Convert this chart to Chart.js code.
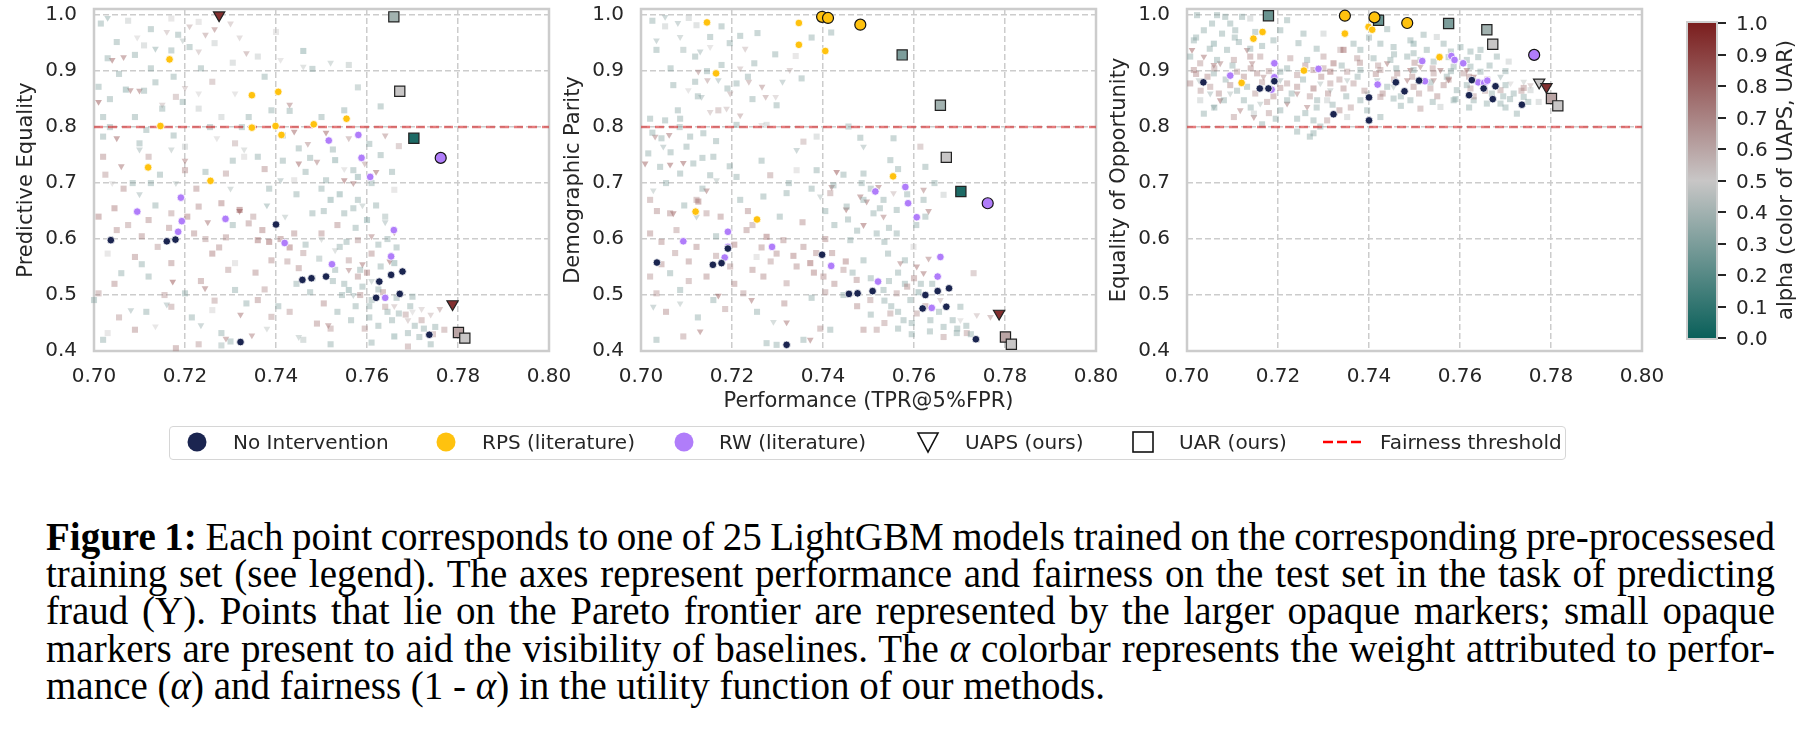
<!DOCTYPE html>
<html>
<head>
<meta charset="utf-8">
<script src="https://cdn.jsdelivr.net/npm/chart.js@4.4.0/dist/chart.umd.min.js"></script>
<style>
  body { margin: 0; width: 1819px; height: 745px; background: #fff; position: relative; overflow: hidden;
         font-family: 'DejaVu Sans', sans-serif; color: #262626; }
  canvas { position: absolute; top: 0; }
  .lg-box { position: absolute; left: 169px; top: 426px; width: 1397px; height: 34px; box-sizing: border-box;
            border: 1.5px solid #d6d6d6; border-radius: 4px; }
  .lg-txt { position: absolute; top: 430px; font-size: 20px; line-height: 24px; white-space: nowrap; }
  .cb-tick { position: absolute; left: 1718px; width: 8px; height: 2px; background: #262626; }
  .cb-lab { position: absolute; left: 1736px; font-size: 20px; line-height: 24px; }
  #caption { position: absolute; left: 46px; top: 518px; width: 1729px; font-family: 'Liberation Serif', serif;
             font-size: 39px; line-height: 37.2px; color: #000; }
  #caption div { white-space: nowrap; }
  #caption .j { text-align: justify; text-align-last: justify; }
</style>
</head>
<body>

<canvas id="c1" width="579" height="431" style="left:0px"></canvas>
<canvas id="c2" width="579" height="431" style="left:547px"></canvas>
<canvas id="c3" width="579" height="431" style="left:1093px"></canvas>

<div id="cbar" style="position:absolute; left:1686px; top:21px; width:32px; height:319px; box-sizing:border-box;
     border:2px solid #cfcfcf; background:linear-gradient(to top, rgb(10,96,90), rgb(200,198,198), rgb(123,30,30));"></div>
<div id="cbticks"></div>
<div style="position:absolute; left:1785px; top:180px; transform:translate(-50%,-50%) rotate(-90deg);
     white-space:nowrap; font-size:21px;">alpha (color of UAPS, UAR)</div>

<div class="lg-box"></div>
<svg style="position:absolute; left:0; top:415px;" width="1819" height="55">
  <circle cx="197" cy="27" r="9.5" fill="#1b2550"/>
  <circle cx="446" cy="27" r="9.5" fill="#ffc20e"/>
  <circle cx="684" cy="27" r="9.5" fill="#b07dfa"/>
  <polygon points="918,18 938,18 928,37" fill="#fff" stroke="#111" stroke-width="1.6"/>
  <rect x="1133" y="17" width="20" height="20" fill="#fff" stroke="#111" stroke-width="1.6"/>
  <line x1="1323" y1="27" x2="1363" y2="27" stroke="#ff0000" stroke-width="2.5" stroke-dasharray="10,4"/>
</svg>
<div class="lg-txt" style="left:233px">No Intervention</div>
<div class="lg-txt" style="left:482px">RPS (literature)</div>
<div class="lg-txt" style="left:719px">RW (literature)</div>
<div class="lg-txt" style="left:965px">UAPS (ours)</div>
<div class="lg-txt" style="left:1179px">UAR (ours)</div>
<div class="lg-txt" style="left:1380px">Fairness threshold</div>

<div id="caption">
  <div class="j"><b>Figure 1:</b> Each point corresponds to one of 25 LightGBM models trained on the corresponding pre-processesed</div>
  <div class="j">training set (see legend). The axes represent performance and fairness on the test set in the task of predicting</div>
  <div class="j">fraud (Y). Points that lie on the Pareto frontier are represented by the larger opaque markers; small opaque</div>
  <div class="j">markers are present to aid the visibility of baselines. The <i>α</i> colorbar represents the weight attributed to perfor-</div>
  <div>mance (<i>α</i>) and fairness (1 - <i>α</i>) in the utility function of our methods.</div>
</div>

<script>
var xTicks = [0.70, 0.72, 0.74, 0.76, 0.78, 0.80];
var yTicks = [0.4, 0.5, 0.6, 0.7, 0.8, 0.9, 1.0];
var cbarTicks = [0.0, 0.1, 0.2, 0.3, 0.4, 0.5, 0.6, 0.7, 0.8, 0.9, 1.0];
var threshold = 0.8;
var panelTitles = ['Predictive Equality', 'Demographic Parity', 'Equality of Opportunity'];
var xTitle = 'Performance (TPR@5%FPR)';

// ---- Predictive Equality ----
var peNoInt = [[0.7037,0.598],[0.7160,0.596],[0.7179,0.599],[0.7400,0.626],[0.7458,0.527],[0.7478,0.530],[0.7510,0.533],[0.7627,0.524],[0.7653,0.536],[0.7678,0.542],[0.7620,0.495],[0.7672,0.502],[0.7737,0.429],[0.7322,0.416]];
var peRPS = [[0.7166,0.921],[0.7347,0.857],[0.7405,0.863],[0.7146,0.802],[0.7347,0.799],[0.7399,0.802],[0.7412,0.786],[0.7483,0.805],[0.7555,0.815],[0.7119,0.728],[0.7256,0.704]];
var peRW = [[0.7516,0.776],[0.7581,0.786],[0.7588,0.745],[0.7607,0.711],[0.7191,0.674],[0.7095,0.649],[0.7193,0.632],[0.7289,0.636],[0.7185,0.613],[0.7419,0.593],[0.7659,0.616],[0.7653,0.569],[0.7523,0.555],[0.7640,0.495]];
var peParetoUAR = [[0.7659,0.997,0.4],[0.7672,0.864,0.5],[0.7703,0.780,0.05],[0.7801,0.433,0.6],[0.7815,0.423,0.5]];
var peParetoUAPS = [[0.7275,1.0,0.95],[0.7788,0.484,0.95]];
var peParetoRPS = [];
var peParetoRW = [[0.7762,0.745]];
var peFaintUAR = [[0.705,0.952,0.3],[0.711,0.946,0.45],[0.717,0.994,0.5],[0.723,0.988,0.5],[0.721,0.943,0.3],[0.717,0.937,0.3],[0.709,0.929,0.3],[0.703,0.923,0.3],[0.746,0.936,0.25],[0.748,0.904,0.3],[0.756,0.911,0.4],[0.736,0.926,0.45],[0.740,0.970,0.5],[0.701,0.872,0.3],[0.707,0.867,0.25],[0.711,0.865,0.3],[0.715,0.833,0.3],[0.726,0.881,0.65],[0.718,0.854,0.65],[0.702,0.818,0.3],[0.709,0.818,0.3],[0.723,0.833,0.45],[0.728,0.818,0.45],[0.734,0.818,0.3],[0.739,0.830,0.3],[0.743,0.829,0.3],[0.750,0.818,0.3],[0.755,0.830,0.3],[0.763,0.837,0.3],[0.758,0.871,0.35],[0.767,0.766,0.65],[0.766,0.688,0.5],[0.702,0.783,0.3],[0.710,0.771,0.3],[0.720,0.765,0.45],[0.731,0.771,0.65],[0.736,0.747,0.3],[0.745,0.762,0.3],[0.753,0.741,0.25],[0.757,0.723,0.3],[0.763,0.750,0.3],[0.702,0.747,0.75],[0.712,0.747,0.7],[0.720,0.723,0.75],[0.729,0.717,0.7],[0.733,0.747,0.5],[0.744,0.705,0.5],[0.751,0.705,0.3],[0.758,0.711,0.25],[0.701,0.640,0.8],[0.705,0.616,0.75],[0.712,0.634,0.75],[0.717,0.646,0.7],[0.723,0.658,0.75],[0.728,0.664,0.8],[0.732,0.652,0.9],[0.734,0.628,0.75],[0.737,0.616,0.8],[0.722,0.610,0.75],[0.714,0.586,0.7],[0.709,0.568,0.75],[0.703,0.574,0.5],[0.717,0.557,0.75],[0.726,0.574,0.8],[0.731,0.557,0.5],[0.739,0.562,0.75],[0.744,0.610,0.75],[0.748,0.646,0.3],[0.752,0.670,0.25],[0.755,0.646,0.3],[0.758,0.670,0.3],[0.760,0.634,0.25],[0.750,0.610,0.75],[0.754,0.586,0.3],[0.758,0.598,0.7],[0.761,0.574,0.75],[0.756,0.562,0.7],[0.753,0.545,0.3],[0.758,0.533,0.75],[0.763,0.551,0.3],[0.766,0.557,0.25],[0.759,0.515,0.3],[0.756,0.509,0.25],[0.761,0.491,0.3],[0.764,0.479,0.7],[0.767,0.467,0.3],[0.770,0.497,0.3],[0.772,0.455,0.7],[0.775,0.443,0.3],[0.777,0.438,0.7],[0.769,0.432,0.3],[0.766,0.426,0.25],[0.749,0.449,0.75],[0.752,0.440,0.7],[0.743,0.470,0.7],[0.736,0.491,0.75],[0.726,0.473,0.5],[0.717,0.479,0.7],[0.709,0.438,0.75],[0.703,0.432,0.5],[0.701,0.503,0.7],[0.706,0.539,0.3],[0.712,0.533,0.3],[0.720,0.503,0.3],[0.731,0.509,0.3],[0.700,0.491,0.3],[0.728,0.432,0.3],[0.739,0.461,0.7],[0.730,0.417,0.3],[0.728,0.410,0.35],[0.723,0.412,0.7],[0.718,0.405,0.75],[0.746,0.420,0.4],[0.752,0.412,0.3],[0.761,0.415,0.3],[0.769,0.408,0.7],[0.774,0.412,0.3],[0.702,0.420,0.3],[0.741,0.600,0.8],[0.743,0.585,0.85],[0.746,0.575,0.7],[0.736,0.598,0.85],[0.729,0.603,0.75],[0.735,0.640,0.7],[0.745,0.548,0.75],[0.748,0.530,0.3],[0.755,0.520,0.3],[0.760,0.540,0.8],[0.750,0.690,0.3],[0.754,0.680,0.25],[0.757,0.655,0.3],[0.762,0.660,0.3],[0.764,0.640,0.35],[0.761,0.700,0.3],[0.7045,0.655,0.8],[0.7075,0.625,0.7],[0.7105,0.605,0.75],[0.7135,0.660,0.3],[0.7165,0.620,0.75],[0.7205,0.640,0.8],[0.7245,0.600,0.7],[0.7275,0.585,0.75],[0.7305,0.625,0.3],[0.7385,0.595,0.9],[0.7425,0.560,0.7],[0.7465,0.590,0.3],[0.7495,0.565,0.35],[0.7525,0.525,0.3],[0.7545,0.500,0.3],[0.7575,0.480,0.3],[0.7605,0.460,0.3],[0.7635,0.505,0.75],[0.7665,0.495,0.3],[0.7695,0.480,0.3],[0.7725,0.440,0.3],[0.7585,0.545,0.3],[0.7555,0.595,0.3],[0.7625,0.590,0.3],[0.7085,0.700,0.3],[0.7145,0.715,0.3],[0.7225,0.690,0.75],[0.7385,0.690,0.3],[0.7445,0.680,0.3],[0.7325,0.800,0.3],
  [0.7015,0.985,0.3],[0.7075,0.990,0.45],[0.7125,0.975,0.3],[0.7185,0.965,0.3],[0.7265,0.950,0.45],[0.7055,0.895,0.3],[0.7125,0.905,0.3],[0.7175,0.890,0.3],[0.7235,0.905,0.3],[0.7305,0.915,0.45],[0.7375,0.890,0.3],[0.7035,0.850,0.3],[0.7135,0.880,0.3],[0.7195,0.845,0.3],[0.7035,0.800,0.3],[0.7115,0.795,0.3],[0.7175,0.785,0.3],[0.7255,0.800,0.3],[0.7415,0.785,0.3],[0.7475,0.745,0.3],[0.7525,0.760,0.3],[0.7605,0.770,0.3],[0.7655,0.720,0.3],[0.7025,0.715,0.7],[0.7065,0.690,0.75],[0.7125,0.700,0.3],[0.7245,0.720,0.3],[0.7305,0.740,0.3],[0.7375,0.725,0.75],[0.7415,0.740,0.3],[0.7465,0.720,0.3],[0.7505,0.650,0.3],[0.7535,0.625,0.75],[0.7575,0.620,0.3],[0.7645,0.600,0.3],[0.7665,0.585,0.3],[0.7445,0.520,0.3],[0.7475,0.505,0.3],[0.7505,0.485,0.75],[0.7535,0.470,0.3],[0.7565,0.455,0.3],[0.7595,0.440,0.7],[0.7625,0.445,0.3],[0.7655,0.455,0.3],[0.7685,0.465,0.7],[0.7705,0.445,0.3],[0.7715,0.425,0.3],[0.7745,0.430,0.7],[0.7585,0.500,0.75],[0.7625,0.510,0.3],[0.7605,0.480,0.3],[0.7645,0.470,0.3],[0.7055,0.460,0.7],[0.7115,0.470,0.3],[0.7155,0.500,0.7],[0.7215,0.460,0.3],[0.7265,0.490,0.7],[0.7335,0.485,0.3],[0.7375,0.510,0.7],[0.7405,0.480,0.3],[0.7355,0.540,0.75],[0.7295,0.545,0.7],[0.7235,0.525,0.75],[0.7105,0.555,0.3],[0.7045,0.520,0.75]];
var peFaintUAPS = [[0.703,0.995,0.3],[0.7095,0.960,0.5],[0.716,0.970,0.6],[0.721,0.980,0.65],[0.7245,0.965,0.7],[0.7265,0.975,0.8],[0.730,0.985,0.6],[0.732,0.960,0.55],[0.704,0.920,0.9],[0.7065,0.925,0.85],[0.7135,0.940,0.3],[0.7195,0.955,0.4],[0.723,0.935,0.6],[0.7335,0.932,0.7],[0.741,0.920,0.5],[0.746,0.908,0.45],[0.752,0.915,0.4],[0.708,0.866,0.85],[0.710,0.865,0.85],[0.720,0.870,0.6],[0.723,0.860,0.5],[0.701,0.845,0.95],[0.715,0.840,0.6],[0.731,0.860,0.5],[0.743,0.840,0.8],[0.744,0.792,0.9],[0.751,0.790,0.9],[0.756,0.780,0.7],[0.764,0.785,0.75],[0.705,0.780,0.9],[0.710,0.760,0.35],[0.717,0.760,0.4],[0.727,0.780,0.5],[0.733,0.760,0.45],[0.747,0.770,0.75],[0.749,0.738,0.8],[0.745,0.735,0.9],[0.755,0.725,0.5],[0.7595,0.735,0.7],[0.762,0.720,0.9],[0.706,0.730,0.85],[0.720,0.740,0.8],[0.741,0.705,0.35],[0.755,0.705,0.9],[0.757,0.700,0.85],[0.759,0.660,0.4],[0.764,0.630,0.35],[0.766,0.612,0.85],[0.761,0.605,0.8],[0.718,0.700,0.4],[0.730,0.690,0.4],[0.732,0.650,0.9],[0.704,0.700,0.5],[0.710,0.680,0.35],[0.725,0.630,0.85],[0.738,0.660,0.3],[0.742,0.640,0.4],[0.750,0.600,0.45],[0.753,0.580,0.45],[0.756,0.545,0.8],[0.759,0.555,0.85],[0.765,0.560,0.9],[0.761,0.525,0.4],[0.757,0.500,0.35],[0.766,0.480,0.6],[0.770,0.470,0.5],[0.772,0.475,0.55],[0.774,0.465,0.6],[0.776,0.475,0.7],[0.769,0.455,0.6],[0.7173,0.524,0.95],[0.7244,0.512,0.85],[0.7322,0.465,0.85],[0.7235,0.446,0.35],[0.7081,0.473,0.35],[0.716,0.483,0.35],[0.7135,0.444,0.5],[0.729,0.422,0.8],[0.7347,0.428,0.8],[0.7515,0.446,0.8],[0.745,0.425,0.4],[0.738,0.440,0.45]];

// ---- Demographic Parity ----
var dpNoInt = [[0.7035,0.558],[0.7158,0.554],[0.7177,0.557],[0.7191,0.583],[0.7398,0.572],[0.7457,0.502],[0.7476,0.503],[0.7509,0.507],[0.7625,0.500],[0.7652,0.507],[0.7677,0.512],[0.7619,0.476],[0.7671,0.479],[0.7736,0.421],[0.7320,0.411]];
var dpRPS = [[0.7145,0.987],[0.7347,0.986],[0.7347,0.947],[0.7405,0.936],[0.7165,0.896],[0.7554,0.712],[0.7120,0.649],[0.7255,0.635]];
var dpRW = [[0.7515,0.685],[0.7581,0.693],[0.7587,0.664],[0.7606,0.639],[0.7191,0.613],[0.7093,0.596],[0.7191,0.586],[0.7288,0.586],[0.7184,0.567],[0.7418,0.552],[0.7658,0.568],[0.7652,0.533],[0.7521,0.524],[0.7639,0.477]];
var dpParetoUAR = [[0.7574,0.929,0.3],[0.7658,0.839,0.4],[0.7671,0.746,0.5],[0.7703,0.685,0.05],[0.7801,0.425,0.6],[0.7814,0.412,0.5]];
var dpParetoUAPS = [[0.7787,0.467,0.95]];
var dpParetoRPS = [[0.7398,0.997],[0.7411,0.995],[0.7482,0.983]];
var dpParetoRW = [[0.7762,0.664]];
var dpFaintUAR = [[0.7053,0.980,0.45],[0.7122,0.982,0.45],[0.7177,0.980,0.3],[0.7152,0.961,0.3],[0.7093,0.938,0.35],[0.7034,0.938,0.3],[0.7119,0.926,0.3],[0.7177,0.911,0.3],[0.7256,0.968,0.3],[0.7218,0.963,0.3],[0.7249,0.914,0.3],[0.7353,0.887,0.3],[0.7340,0.927,0.5],[0.7418,0.969,0.3],[0.7071,0.875,0.3],[0.7119,0.881,0.3],[0.7190,0.869,0.3],[0.7210,0.878,0.3],[0.7298,0.839,0.3],[0.7081,0.830,0.3],[0.7020,0.815,0.3],[0.7053,0.812,0.3],[0.7086,0.815,0.3],[0.7170,0.830,0.65],[0.7210,0.804,0.3],[0.7276,0.804,0.45],[0.7386,0.783,0.45],[0.7357,0.774,0.65],[0.7482,0.781,0.3],[0.7555,0.780,0.3],[0.7456,0.801,0.3],[0.7108,0.783,0.3],[0.7137,0.789,0.3],[0.7100,0.765,0.3],[0.7042,0.729,0.3],[0.7086,0.717,0.3],[0.7115,0.735,0.3],[0.7159,0.747,0.3],[0.7016,0.753,0.3],[0.7152,0.714,0.3],[0.7210,0.711,0.3],[0.7284,0.714,0.7],[0.7342,0.723,0.5],[0.7386,0.723,0.3],[0.7423,0.696,0.3],[0.7489,0.717,0.3],[0.7548,0.741,0.3],[0.7625,0.729,0.3],[0.7614,0.765,0.65],[0.7665,0.679,0.45],[0.7621,0.670,0.3],[0.7489,0.670,0.3],[0.7533,0.670,0.3],[0.7562,0.652,0.3],[0.7511,0.646,0.3],[0.7452,0.658,0.3],[0.7416,0.682,0.7],[0.7320,0.682,0.3],[0.7269,0.676,0.3],[0.7218,0.670,0.3],[0.7122,0.670,0.7],[0.7020,0.670,0.7],[0.7064,0.646,0.75],[0.7126,0.667,0.85],[0.7144,0.646,0.7],[0.7020,0.610,0.75],[0.7078,0.616,0.7],[0.7122,0.586,0.75],[0.7232,0.616,0.75],[0.7276,0.604,0.85],[0.7313,0.598,0.75],[0.7357,0.586,0.75],[0.7372,0.557,0.9],[0.7342,0.551,0.75],[0.7298,0.574,0.75],[0.7254,0.568,0.5],[0.7196,0.551,0.7],[0.7144,0.533,0.75],[0.7064,0.539,0.3],[0.7020,0.533,0.7],[0.7034,0.503,0.7],[0.7086,0.509,0.3],[0.7159,0.491,0.3],[0.7225,0.503,0.7],[0.7269,0.533,0.75],[0.7320,0.521,0.7],[0.7401,0.533,0.75],[0.7445,0.545,0.7],[0.7489,0.562,0.3],[0.7543,0.574,0.3],[0.7580,0.562,0.3],[0.7460,0.598,0.3],[0.7518,0.610,0.3],[0.7562,0.610,0.3],[0.7599,0.586,0.5],[0.7474,0.527,0.75],[0.7504,0.491,0.7],[0.7533,0.509,0.3],[0.7562,0.503,0.7],[0.7592,0.491,0.3],[0.7548,0.467,0.7],[0.7577,0.455,0.3],[0.7606,0.467,0.7],[0.7636,0.455,0.3],[0.7665,0.443,0.3],[0.7702,0.479,0.3],[0.7731,0.539,0.65],[0.7694,0.432,0.3],[0.7716,0.432,0.7],[0.7738,0.420,0.5],[0.7489,0.438,0.75],[0.7518,0.438,0.7],[0.7416,0.438,0.3],[0.7357,0.420,0.3],[0.7298,0.411,0.3],[0.7276,0.414,0.3],[0.7093,0.426,0.7],[0.7034,0.420,0.3],[0.7394,0.440,0.7],[0.758,0.520,0.3],[0.761,0.505,0.25],[0.764,0.520,0.3],[0.755,0.480,0.3],[0.760,0.530,0.75],[0.745,0.560,0.8],[0.742,0.575,0.75],[0.738,0.540,0.8],[0.7045,0.595,0.75],[0.7075,0.575,0.7],[0.7105,0.560,0.75],[0.7165,0.605,0.3],[0.7205,0.590,0.8],[0.7245,0.545,0.75],[0.7285,0.560,0.7],[0.7335,0.570,0.8],[0.7385,0.575,0.75],[0.7425,0.520,0.75],[0.7465,0.540,0.3],[0.7505,0.530,0.3],[0.7535,0.490,0.3],[0.7565,0.470,0.3],[0.7595,0.450,0.3],[0.7625,0.480,0.75],[0.7655,0.470,0.3],[0.7685,0.455,0.3],[0.7715,0.445,0.3],[0.7565,0.540,0.3],[0.7535,0.595,0.3],[0.7605,0.625,0.3],[0.7455,0.635,0.3],[0.7405,0.650,0.3],[0.7055,0.700,0.3],[0.7135,0.690,0.3],[0.7235,0.650,0.75],[0.7485,0.700,0.3],[0.7045,0.780,0.3],[0.7565,0.725,0.3],
  [0.7025,0.990,0.3],[0.7105,0.995,0.45],[0.7195,0.950,0.3],[0.7065,0.905,0.3],[0.7145,0.900,0.3],[0.7235,0.890,0.3],[0.7295,0.930,0.3],[0.7375,0.960,0.3],[0.7125,0.855,0.3],[0.7245,0.850,0.3],[0.7025,0.790,0.3],[0.7085,0.800,0.3],[0.7165,0.775,0.3],[0.7065,0.755,0.3],[0.7135,0.745,0.3],[0.7195,0.730,0.3],[0.7265,0.740,0.3],[0.7325,0.700,0.3],[0.7375,0.690,0.3],[0.7445,0.715,0.3],[0.7505,0.690,0.3],[0.7525,0.655,0.3],[0.7585,0.680,0.3],[0.7625,0.640,0.3],[0.7645,0.700,0.3],[0.7035,0.650,0.75],[0.7095,0.660,0.3],[0.7175,0.640,0.75],[0.7245,0.625,0.7],[0.7305,0.640,0.3],[0.7355,0.630,0.75],[0.7425,0.625,0.3],[0.7475,0.615,0.3],[0.7545,0.620,0.3],[0.7445,0.500,0.3],[0.7475,0.480,0.75],[0.7505,0.465,0.3],[0.7535,0.450,0.7],[0.7565,0.440,0.3],[0.7595,0.430,0.3],[0.7635,0.435,0.3],[0.7665,0.425,0.7],[0.7695,0.440,0.3],[0.7725,0.430,0.3],[0.7585,0.515,0.75],[0.7615,0.520,0.3],[0.7545,0.525,0.3],[0.7055,0.470,0.75],[0.7125,0.460,0.3],[0.7185,0.475,0.7],[0.7255,0.470,0.3],[0.7315,0.485,0.75],[0.7375,0.495,0.3],[0.7405,0.505,0.7],[0.7205,0.520,0.75],[0.7105,0.525,0.7],[0.7045,0.555,0.75],[0.7165,0.570,0.7],[0.7265,0.585,0.75],[0.7405,0.600,0.75]];
var dpFaintUAPS = [[0.7053,0.997,0.35],[0.7081,0.986,0.35],[0.7034,0.955,0.35],[0.7086,0.961,0.4],[0.7130,0.935,0.35],[0.7152,0.943,0.5],[0.7229,0.940,0.6],[0.7126,0.899,0.75],[0.7146,0.884,0.7],[0.7170,0.884,0.35],[0.7104,0.866,0.5],[0.7133,0.854,0.35],[0.7196,0.860,0.65],[0.7218,0.905,0.6],[0.7237,0.881,0.7],[0.7266,0.872,0.75],[0.7274,0.854,0.7],[0.7296,0.854,0.55],[0.7311,0.881,0.35],[0.7327,0.902,0.6],[0.7188,0.833,0.6],[0.7218,0.821,0.7],[0.7152,0.827,0.6],[0.7265,0.804,0.5],[0.7009,0.735,0.9],[0.7031,0.783,0.8],[0.7064,0.733,0.9],[0.7093,0.736,0.9],[0.7062,0.786,0.85],[0.7049,0.765,0.35],[0.7144,0.687,0.85],[0.7027,0.687,0.4],[0.7166,0.705,0.4],[0.7071,0.646,0.9],[0.7122,0.640,0.35],[0.7430,0.720,0.95],[0.7419,0.693,0.85],[0.7482,0.676,0.85],[0.7496,0.667,0.85],[0.7522,0.693,0.85],[0.7555,0.682,0.6],[0.7621,0.688,0.8],[0.7632,0.650,0.85],[0.7533,0.640,0.8],[0.7489,0.625,0.9],[0.7451,0.653,0.9],[0.7394,0.676,0.4],[0.7489,0.765,0.35],[0.7342,0.759,0.35],[0.7632,0.565,0.8],[0.7606,0.551,0.85],[0.7621,0.539,0.85],[0.7570,0.557,0.8],[0.7170,0.499,0.9],[0.7243,0.491,0.85],[0.7320,0.451,0.85],[0.7130,0.435,0.85],[0.7086,0.485,0.4],[0.7027,0.479,0.35],[0.7291,0.452,0.4],[0.7372,0.420,0.85],[0.7768,0.461,0.7],[0.7738,0.464,0.6],[0.7702,0.455,0.5],[0.7636,0.476,0.55],[0.7658,0.491,0.6]];

// ---- Equality of Opportunity ----
var eoNoInt = [[0.7036,0.880],[0.7160,0.869],[0.7179,0.869],[0.7192,0.882],[0.7400,0.853],[0.7322,0.823],[0.7400,0.812],[0.7459,0.880],[0.7478,0.864],[0.7510,0.883],[0.7626,0.884],[0.7652,0.869],[0.7678,0.873],[0.7620,0.857],[0.7672,0.850],[0.7736,0.840]];
var eoRPS = [[0.7166,0.970],[0.7146,0.958],[0.7347,0.967],[0.7399,0.979],[0.7407,0.974],[0.7555,0.925],[0.7257,0.901],[0.7120,0.879]];
var eoRW = [[0.7095,0.892],[0.7192,0.914],[0.7192,0.889],[0.7186,0.867],[0.7289,0.904],[0.7419,0.876],[0.7517,0.918],[0.7581,0.927],[0.7588,0.920],[0.7607,0.914],[0.7523,0.882],[0.7640,0.880],[0.7653,0.879],[0.7660,0.883]];
var eoParetoUAR = [[0.7179,0.999,0.25],[0.7421,0.991,0.25],[0.7575,0.985,0.3],[0.7659,0.974,0.4],[0.7672,0.948,0.5],[0.7801,0.851,0.6],[0.7815,0.838,0.5]];
var eoParetoUAPS = [[0.7774,0.880,0.5],[0.7790,0.872,0.95]];
var eoParetoRPS = [[0.7347,0.999],[0.7412,0.996],[0.7484,0.986]];
var eoParetoRW = [[0.7763,0.929]];
var eoFaintUAR = [[0.7022,1.000,0.3],[0.7066,1.000,0.3],[0.7084,0.997,0.3],[0.7121,0.997,0.3],[0.7139,0.994,0.45],[0.7037,0.973,0.3],[0.7077,0.967,0.3],[0.7106,0.973,0.3],[0.7059,0.949,0.25],[0.7114,0.952,0.3],[0.7088,0.938,0.3],[0.7139,0.940,0.3],[0.7205,0.973,0.3],[0.7220,0.991,0.3],[0.7256,0.967,0.3],[0.7300,0.967,0.45],[0.7337,0.938,0.65],[0.7366,0.949,0.3],[0.7381,0.938,0.3],[0.7425,0.949,0.3],[0.7454,0.943,0.3],[0.7491,0.955,0.3],[0.7498,0.949,0.25],[0.7498,0.932,0.3],[0.7527,0.938,0.3],[0.7549,0.961,0.45],[0.7564,0.949,0.3],[0.7601,0.943,0.3],[0.7623,0.935,0.3],[0.7645,0.938,0.3],[0.7681,0.926,0.3],[0.7707,0.917,0.45],[0.7007,0.926,0.3],[0.7029,0.914,0.7],[0.7066,0.920,0.3],[0.7103,0.920,0.7],[0.7139,0.926,0.75],[0.7161,0.926,0.7],[0.7227,0.923,0.7],[0.7264,0.920,0.3],[0.7300,0.926,0.7],[0.7322,0.914,0.85],[0.7344,0.938,0.9],[0.7374,0.923,0.7],[0.7410,0.923,0.3],[0.7447,0.920,0.3],[0.7484,0.926,0.3],[0.7513,0.920,0.3],[0.7542,0.917,0.3],[0.7586,0.908,0.3],[0.7623,0.908,0.3],[0.7015,0.902,0.75],[0.7059,0.896,0.3],[0.7110,0.899,0.7],[0.7154,0.896,0.75],[0.7205,0.899,0.3],[0.7242,0.893,0.7],[0.7278,0.902,0.75],[0.7315,0.899,0.85],[0.7352,0.899,0.7],[0.7381,0.902,0.3],[0.7425,0.902,0.7],[0.7462,0.896,0.75],[0.7498,0.902,0.3],[0.7542,0.896,0.7],[0.7571,0.890,0.3],[0.7608,0.896,0.7],[0.7645,0.899,0.3],[0.7007,0.878,0.75],[0.7051,0.872,0.7],[0.7095,0.875,0.75],[0.7132,0.872,0.3],[0.7220,0.878,0.7],[0.7242,0.872,0.75],[0.7278,0.869,0.85],[0.7315,0.878,0.7],[0.7344,0.869,0.75],[0.7366,0.878,0.7],[0.7440,0.872,0.3],[0.7498,0.872,0.75],[0.7535,0.869,0.7],[0.7564,0.875,0.75],[0.7593,0.866,0.3],[0.7623,0.869,0.7],[0.7689,0.866,0.7],[0.7718,0.860,0.3],[0.7740,0.854,0.3],[0.7755,0.866,0.45],[0.7029,0.848,0.45],[0.7081,0.848,0.3],[0.7125,0.848,0.3],[0.7176,0.845,0.7],[0.7220,0.848,0.3],[0.7286,0.848,0.3],[0.7308,0.848,0.45],[0.7381,0.848,0.3],[0.7425,0.854,0.7],[0.7454,0.851,0.3],[0.7491,0.848,0.3],[0.7513,0.833,0.7],[0.7557,0.836,0.45],[0.7586,0.848,0.3],[0.7630,0.848,0.3],[0.7659,0.842,0.3],[0.7689,0.842,0.3],[0.7725,0.824,0.3],[0.7773,0.845,0.45],[0.7037,0.824,0.3],[0.7103,0.818,0.7],[0.7147,0.824,0.45],[0.7205,0.830,0.3],[0.7242,0.815,0.3],[0.7278,0.812,0.3],[0.7308,0.812,0.7],[0.7352,0.818,0.45],[0.7396,0.830,0.3],[0.7425,0.818,0.3],[0.7278,0.789,0.3],[0.7242,0.792,0.3],[0.7293,0.801,0.3],[0.7270,0.783,0.3],[0.7045,0.890,0.75],[0.7085,0.885,0.3],[0.7125,0.890,0.75],[0.7165,0.880,0.7],[0.7205,0.870,0.75],[0.7255,0.885,0.3],[0.7295,0.890,0.75],[0.7335,0.885,0.7],[0.7375,0.890,0.3],[0.7415,0.895,0.75],[0.7455,0.885,0.7],[0.7495,0.890,0.75],[0.7535,0.880,0.3],[0.7575,0.885,0.7],[0.7615,0.875,0.3],[0.7655,0.865,0.7],[0.7695,0.855,0.3],[0.7735,0.865,0.7],[0.7015,0.955,0.3],[0.7055,0.985,0.3],[0.7105,0.960,0.3],[0.7165,0.945,0.3],[0.7575,0.925,0.3],[0.7615,0.920,0.3],[0.7665,0.910,0.3],[0.7455,0.930,0.3],[0.7285,0.835,0.3],[0.7335,0.830,0.75],[0.7195,0.815,0.3],[0.7165,0.805,0.3],
  [0.7020,0.960,0.3],[0.7050,0.940,0.3],[0.7095,0.985,0.3],[0.7150,0.970,0.3],[0.7190,0.955,0.3],[0.7245,0.950,0.3],[0.7285,0.940,0.3],[0.7400,0.960,0.3],[0.7440,0.975,0.3],[0.7520,0.965,0.3],[0.7580,0.935,0.3],[0.7640,0.925,0.3],[0.7700,0.900,0.3],[0.7020,0.895,0.75],[0.7060,0.905,0.7],[0.7100,0.910,0.3],[0.7140,0.905,0.75],[0.7180,0.900,0.7],[0.7220,0.905,0.3],[0.7260,0.910,0.75],[0.7300,0.905,0.7],[0.7340,0.910,0.3],[0.7380,0.915,0.75],[0.7420,0.910,0.7],[0.7460,0.905,0.3],[0.7500,0.915,0.75],[0.7540,0.905,0.7],[0.7580,0.900,0.3],[0.7620,0.890,0.75],[0.7660,0.885,0.7],[0.7700,0.875,0.3],[0.7740,0.870,0.75],[0.7030,0.865,0.7],[0.7070,0.860,0.75],[0.7110,0.865,0.3],[0.7150,0.860,0.7],[0.7190,0.855,0.75],[0.7230,0.860,0.3],[0.7270,0.855,0.7],[0.7310,0.860,0.75],[0.7350,0.855,0.3],[0.7390,0.865,0.7],[0.7430,0.860,0.75],[0.7470,0.855,0.3],[0.7510,0.860,0.7],[0.7550,0.855,0.75],[0.7590,0.850,0.3],[0.7630,0.855,0.7],[0.7670,0.860,0.3],[0.7710,0.850,0.3],[0.7750,0.845,0.3],[0.7060,0.835,0.3],[0.7140,0.835,0.3],[0.7180,0.825,0.7],[0.7260,0.825,0.3],[0.7320,0.840,0.3],[0.7360,0.835,0.7],[0.7470,0.838,0.3],[0.7540,0.845,0.3],[0.7620,0.835,0.3],[0.7700,0.835,0.3]];
var eoFaintUAPS = [[0.7011,0.938,0.9],[0.7037,0.926,0.85],[0.7026,0.884,0.4],[0.7051,0.860,0.35],[0.7073,0.848,0.9],[0.7073,0.914,0.8],[0.7143,0.914,0.8],[0.7168,0.890,0.75],[0.7117,0.830,0.8],[0.7147,0.818,0.85],[0.7059,0.836,0.35],[0.7095,0.860,0.4],[0.7161,0.842,0.4],[0.7220,0.842,0.85],[0.7264,0.836,0.8],[0.7205,0.884,0.35],[0.7293,0.878,0.4],[0.7440,0.914,0.85],[0.7491,0.902,0.9],[0.7513,0.908,0.8],[0.7557,0.902,0.85],[0.7575,0.885,0.95],[0.7542,0.884,0.8],[0.7484,0.884,0.85],[0.7454,0.872,0.4],[0.7418,0.884,0.35],[0.7615,0.902,0.85],[0.7630,0.890,0.9],[0.7659,0.878,0.5],[0.7711,0.878,0.5],[0.7740,0.881,0.45],[0.7755,0.875,0.6],[0.7689,0.890,0.35],[0.7352,0.884,0.4],[0.7315,0.866,0.4],[0.7242,0.860,0.8],[0.7396,0.860,0.35],[0.7132,0.938,0.85],[0.7059,0.911,0.85]];

var NOINT_COLOR = '#1b2550';
var RPS_COLOR = '#ffc20e';
var RW_COLOR = '#b07dfa';

function alphaColor(a, op) {
  var lo = [10, 96, 90], mid = [200, 198, 198], hi = [123, 30, 30];
  var c;
  if (a < 0.5) {
    var t = a / 0.5;
    c = lo.map(function (v, i) { return v + (mid[i] - v) * t; });
  } else {
    var t2 = (a - 0.5) / 0.5;
    c = mid.map(function (v, i) { return v + (hi[i] - v) * t2; });
  }
  return 'rgba(' + c.map(Math.round).join(',') + ',' + op + ')';
}

function toPts(arr) {
  return arr.map(function (p) { return { x: p[0], y: p[1], a: p.length > 2 ? p[2] : 0.5 }; });
}

function colorBy(op) {
  return function (c) { return c.raw ? alphaColor(c.raw.a, op) : '#cccccc'; };
}

// light grey box round each plot area
var frame = {
  id: 'frame',
  beforeDatasetsDraw: function (chart) {
    var a = chart.chartArea, c = chart.ctx;
    c.save();
    c.strokeStyle = '#cccccc';
    c.lineWidth = 2.5;
    c.strokeRect(a.left, a.top, a.right - a.left, a.bottom - a.top);
    c.restore();
  }
};

function makePanel(id, title, showX, d) {
  var ctx = document.getElementById(id).getContext('2d');
  var tickFont = { family: 'DejaVu Sans', size: 20 };
  var titleFont = { family: 'DejaVu Sans', size: 21 };
  return new Chart(ctx, {
    type: 'scatter',
    data: {
      datasets: [
        { data: toPts(d.paretoRPS), pointStyle: 'circle', pointRadius: 5.5, pointBackgroundColor: RPS_COLOR,
          pointBorderColor: '#111', pointBorderWidth: 1.2, order: 0, clip: false },
        { data: toPts(d.paretoRW), pointStyle: 'circle', pointRadius: 5.5, pointBackgroundColor: RW_COLOR,
          pointBorderColor: '#111', pointBorderWidth: 1.2, order: 0, clip: false },
        { data: toPts(d.paretoUAR), pointStyle: 'rect', pointRadius: 7.2, pointBackgroundColor: colorBy(1),
          pointBorderColor: '#222', pointBorderWidth: 1.2, order: 1, clip: false },
        { data: toPts(d.paretoUAPS), pointStyle: 'triangle', pointRotation: 180, pointRadius: 6.5,
          pointBackgroundColor: colorBy(1), pointBorderColor: '#222', pointBorderWidth: 1.2, order: 1, clip: false },
        { data: toPts(d.noInt), pointStyle: 'circle', pointRadius: 3.8, pointBackgroundColor: NOINT_COLOR,
          pointBorderColor: '#fff', pointBorderWidth: 0.8, order: 2, clip: false },
        { data: toPts(d.rps), pointStyle: 'circle', pointRadius: 3.8, pointBackgroundColor: RPS_COLOR,
          pointBorderColor: '#fff', pointBorderWidth: 0.8, order: 2, clip: false },
        { data: toPts(d.rw), pointStyle: 'circle', pointRadius: 3.8, pointBackgroundColor: RW_COLOR,
          pointBorderColor: '#fff', pointBorderWidth: 0.8, order: 2, clip: false },
        { type: 'line', data: [{ x: xTicks[0], y: threshold }, { x: xTicks[xTicks.length - 1], y: threshold }],
          borderColor: 'rgba(214,39,40,0.6)', borderWidth: 2.5, borderDash: [9, 5], pointRadius: 0, fill: false, order: 3 },
        { data: toPts(d.faintUAR), pointStyle: 'rect', pointRadius: 4.3, pointBackgroundColor: colorBy(0.4),
          pointBorderWidth: 0, order: 4, clip: false },
        { data: toPts(d.faintUAPS), pointStyle: 'triangle', pointRotation: 180, pointRadius: 3.9,
          pointBackgroundColor: colorBy(0.42), pointBorderWidth: 0, order: 4, clip: false }
      ]
    },
    options: {
      responsive: false,
      animation: false,
      layout: { padding: { top: 9, right: 30, left: 0, bottom: 0 } },
      plugins: { legend: { display: false }, tooltip: { enabled: false } },
      scales: {
        x: {
          type: 'linear', min: xTicks[0], max: xTicks[xTicks.length - 1],
          afterBuildTicks: function (s) { s.ticks = xTicks.map(function (v) { return { value: v }; }); },
          afterFit: function (s) { s.height = 80; s.paddingLeft = 0; s.paddingRight = 0; },
          grid: { color: '#cccccc', lineWidth: 1.5, drawTicks: false },
          border: { display: false, dash: [6, 3] },
          ticks: { padding: 14, color: '#262626', font: tickFont, maxRotation: 0, autoSkip: false,
                   callback: function (v) { return v.toFixed(2); } },
          title: { display: showX, text: xTitle, color: '#262626', font: titleFont, padding: { top: 0, bottom: 17 } }
        },
        y: {
          type: 'linear', min: 0.4, max: 1.011,
          afterBuildTicks: function (s) { s.ticks = yTicks.map(function (v) { return { value: v }; }); },
          afterFit: function (s) { s.width = 94; s.paddingTop = 0; s.paddingBottom = 0; },
          grid: { color: '#cccccc', lineWidth: 1.5, drawTicks: false },
          border: { display: false, dash: [6, 3] },
          ticks: { padding: 17, color: '#262626', font: tickFont, autoSkip: false,
                   callback: function (v) { return v.toFixed(1); } },
          title: { display: true, text: title, color: '#262626', font: titleFont, padding: { top: 14, bottom: 0 } }
        }
      }
    },
    plugins: [frame]
  });
}

makePanel('c1', panelTitles[0], false, { noInt: peNoInt, rps: peRPS, rw: peRW, paretoUAR: peParetoUAR, paretoUAPS: peParetoUAPS,
  paretoRPS: peParetoRPS, paretoRW: peParetoRW, faintUAR: peFaintUAR, faintUAPS: peFaintUAPS });
makePanel('c2', panelTitles[1], true, { noInt: dpNoInt, rps: dpRPS, rw: dpRW, paretoUAR: dpParetoUAR, paretoUAPS: dpParetoUAPS,
  paretoRPS: dpParetoRPS, paretoRW: dpParetoRW, faintUAR: dpFaintUAR, faintUAPS: dpFaintUAPS });
makePanel('c3', panelTitles[2], false, { noInt: eoNoInt, rps: eoRPS, rw: eoRW, paretoUAR: eoParetoUAR, paretoUAPS: eoParetoUAPS,
  paretoRPS: eoParetoRPS, paretoRW: eoParetoRW, faintUAR: eoFaintUAR, faintUAPS: eoFaintUAPS });

// colorbar ticks
var cb = document.getElementById('cbticks');
cbarTicks.forEach(function (v) {
  var y = 23 + (1 - v) * 315;
  var t = document.createElement('div');
  t.className = 'cb-tick';
  t.style.top = (y - 1) + 'px';
  cb.appendChild(t);
  var l = document.createElement('div');
  l.className = 'cb-lab';
  l.style.top = (y - 12) + 'px';
  l.textContent = v.toFixed(1);
  cb.appendChild(l);
});

// squeeze word spacing on caption lines that are too long for the column
var capW = 1729;
document.querySelectorAll('#caption .j').forEach(function (line) {
  var probe = document.createElement('span');
  probe.innerHTML = line.innerHTML;
  probe.style.whiteSpace = 'nowrap';
  line.innerHTML = '';
  line.appendChild(probe);
  var w = probe.getBoundingClientRect().width;
  var spaces = (probe.textContent.match(/ /g) || []).length;
  line.innerHTML = probe.innerHTML;
  if (w > capW && spaces > 0) {
    line.style.wordSpacing = ((capW - w) / spaces - 0.2) + 'px';
  }
});
</script>
</body>
</html>
